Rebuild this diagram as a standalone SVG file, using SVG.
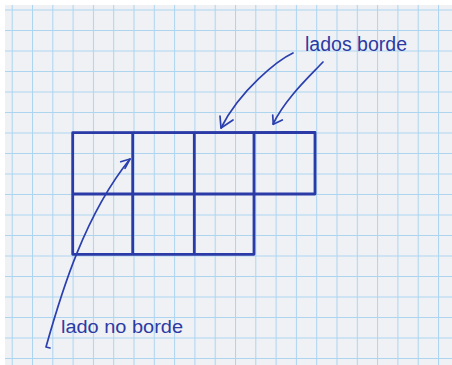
<svg xmlns="http://www.w3.org/2000/svg" width="452" height="365" viewBox="0 0 452 365">
<defs>
<style>
.ink{fill:none;stroke:#2b3fae;stroke-linecap:round;stroke-linejoin:round}
.box{stroke-width:2.8;stroke:#2a3aa6}
.arr{stroke-width:1.7}
.lbl{font-family:"Liberation Sans",Arial,sans-serif;fill:#2c3aa4}
</style>
<pattern id="paper" patternUnits="userSpaceOnUse" x="11.7" y="9.5" width="20.3" height="20.5">
<rect x="0" y="0" width="20.3" height="20.5" fill="#eff1f5"/>
<line x1="0" y1="0" x2="20.3" y2="0" stroke="#acd5f0" stroke-width="2"/>
<line x1="0" y1="0" x2="0" y2="20.5" stroke="#acd5f0" stroke-width="2"/>
</pattern>
</defs>
<rect width="452" height="365" fill="#ffffff"/>
<rect x="5" y="5" width="447" height="360" fill="url(#paper)"/>
<g id="grid" class="ink box">
<path d="M72.7,132.7 L315,132.5 M72.7,194 L315,194 M72.7,254.3 L254,254.3 M72.7,132.7 V254.3 M132.7,132.7 V254.3 M194.3,132.7 V254.3 M254,132.7 V254.3 M315,132.5 V194"/>
</g>
<g id="label-lados-borde">
<text class="lbl" x="305" y="51" font-size="20" textLength="102" lengthAdjust="spacingAndGlyphs">lados borde</text>
</g>
<g id="label-lado-no-borde">
<text class="lbl" x="61" y="333" font-size="18" textLength="122" lengthAdjust="spacingAndGlyphs">lado no borde</text>
</g>
<g id="connectors" class="ink arr">
<path d="M293,53 C278,60 240,90 221,128"/>
<path d="M220,116 L221,128 L233,120"/>
<path d="M323,62 C308,78 286,98 273,124"/>
<path d="M272.7,115 L273.3,124.3 L282.3,120"/>
<path d="M50,348 L46,347 C62,290 85,215 130,159"/>
<path d="M120.7,161.7 L130,159 L125,168.3"/>
</g>
</svg>
